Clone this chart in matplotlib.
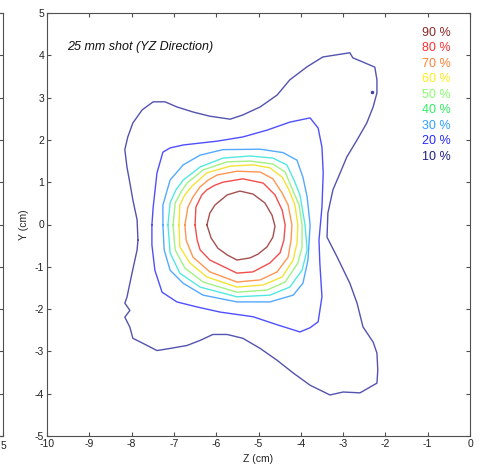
import matplotlib
matplotlib.use("Agg")
import matplotlib.pyplot as plt

plt.rcParams['font.family'] = ['Liberation Sans', 'DejaVu Sans']
plt.rcParams['axes.unicode_minus'] = False

# contour lines, (Z, Y) in cm
z90 = [-6.22, -6.15, -6.03, -5.74, -5.44, -5.13, -4.85, -4.68, -4.61, -4.66, -4.80, -5.01, -5.20, -5.51, -5.74, -5.96, -6.12]
y90 = [-0.01, 0.27, 0.46, 0.70, 0.79, 0.72, 0.51, 0.22, -0.04, -0.30, -0.53, -0.70, -0.79, -0.84, -0.72, -0.56, -0.32]

z80 = [-6.50, -6.48, -6.34, -6.22, -6.03, -5.84, -5.37, -4.89, -4.61, -4.44, -4.37, -4.40, -4.49, -4.73, -5.13, -5.51, -6.15, -6.38, -6.45]
y80 = [-0.01, 0.41, 0.70, 0.82, 0.93, 1.00, 1.08, 0.98, 0.70, 0.34, -0.01, -0.37, -0.67, -0.91, -1.12, -1.15, -0.84, -0.60, -0.37]

z70 = [-6.74, -6.67, -6.55, -6.38, -6.19, -5.98, -5.51, -4.96, -4.66, -4.44, -4.30, -4.21, -4.23, -4.30, -4.56, -4.96, -5.51, -6.15, -6.55, -6.71]
y70 = [-0.01, 0.41, 0.65, 0.89, 1.05, 1.17, 1.26, 1.24, 1.08, 0.74, 0.46, -0.01, -0.37, -0.77, -1.12, -1.31, -1.36, -1.12, -0.77, -0.37]

z60 = [-6.88, -6.86, -6.74, -6.57, -6.22, -5.67, -5.13, -4.73, -4.44, -4.28, -4.14, -4.07, -4.09, -4.18, -4.44, -4.89, -5.51, -6.22, -6.62, -6.86]
y60 = [-0.01, 0.46, 0.70, 0.91, 1.22, 1.38, 1.41, 1.34, 1.12, 0.82, 0.46, -0.01, -0.44, -0.84, -1.24, -1.43, -1.48, -1.24, -0.91, -0.53]

z50 = [-7.02, -6.97, -6.83, -6.69, -6.31, -5.74, -5.20, -4.66, -4.37, -4.21, -4.04, -3.97, -3.97, -4.07, -4.37, -4.80, -5.51, -6.31, -6.74, -6.97]
y50 = [-0.01, 0.51, 0.77, 0.98, 1.29, 1.48, 1.50, 1.43, 1.24, 0.86, 0.46, -0.01, -0.53, -0.91, -1.36, -1.55, -1.60, -1.36, -1.03, -0.60]

z40 = [-7.14, -7.09, -6.95, -6.78, -6.38, -5.84, -5.20, -4.66, -4.33, -4.16, -4.02, -3.90, -3.85, -3.97, -4.26, -4.73, -5.51, -6.38, -6.86, -7.09]
y40 = [-0.01, 0.51, 0.82, 1.05, 1.36, 1.57, 1.62, 1.57, 1.41, 1.05, 0.70, -0.01, -0.60, -1.08, -1.48, -1.67, -1.71, -1.48, -1.15, -0.67]

z30 = [-7.26, -7.26, -7.09, -6.78, -6.38, -5.84, -4.96, -4.42, -4.09, -3.95, -3.85, -3.78, -3.83, -3.95, -4.18, -4.73, -5.51, -6.31, -6.78, -7.09, -7.23]
y30 = [-0.01, 0.46, 1.05, 1.41, 1.64, 1.77, 1.78, 1.70, 1.52, 1.12, 0.65, -0.01, -0.84, -1.39, -1.67, -1.83, -1.83, -1.67, -1.39, -1.08, -0.60]

z20 = [-7.52, -7.49, -7.40, -7.26, -7.09, -6.78, -5.98, -5.37, -4.80, -4.26, -3.78, -3.59, -3.50, -3.47, -3.50, -3.57, -3.55, -3.50,
       -3.59, -3.78, -4.02, -4.56, -5.13, -5.91, -6.45, -6.93, -7.28, -7.45, -7.52]
y20 = [-0.01, 0.41, 1.22, 1.71, 1.81, 1.88, 1.97, 2.07, 2.23, 2.42, 2.52, 2.28, 1.83, 1.22, 0.41, -0.37, -0.91, -1.71,
       -2.30, -2.44, -2.54, -2.37, -2.18, -2.07, -1.95, -1.83, -1.60, -1.08, -0.48]

z10 = [-7.85, -7.87, -7.97, -8.04, -8.11, -8.16, -8.09, -7.97, -7.75, -7.49, -7.21, -6.93, -6.55, -6.15, -5.67, -5.37, -4.96,
       -4.56, -4.26, -3.85, -3.48, -2.84, -2.77, -2.53, -2.25, -2.20, -2.20, -2.29, -2.44, -2.67, -2.91, -3.07, -3.24, -3.36,
       -3.38, -3.14, -2.84, -2.67, -2.53, -2.29, -2.20, -2.18, -2.20, -2.60, -3.00, -3.31, -3.78, -4.18, -4.56, -4.96, -5.37,
       -5.74, -6.08, -6.38, -6.69, -7.09, -7.40, -7.73, -7.97, -8.04, -8.16, -8.04, -8.16, -8.11, -7.99, -7.87]
y10 = [-0.37, 0.11, 0.58, 0.98, 1.36, 1.77, 2.07, 2.40, 2.71, 2.90, 2.90, 2.78, 2.66, 2.56, 2.49, 2.59, 2.78,
       3.06, 3.42, 3.73, 3.96, 4.06, 3.94, 3.84, 3.72, 3.42, 3.11, 2.78, 2.40, 2.00, 1.60, 1.22, 0.82, 0.27,
       -0.30, -0.77, -1.39, -1.86, -2.42, -2.78, -3.04, -3.44, -3.75, -3.98, -3.96, -4.03, -3.80, -3.51, -3.21, -2.93, -2.69,
       -2.60, -2.60, -2.74, -2.86, -2.93, -2.98, -2.81, -2.69, -2.43, -2.19, -2.03, -1.86, -1.72, -1.15, -0.60]
# small isolated 10 % island
z10_dot = [-2.32]
y10_dot = [3.13]

levels = ['90 %', '80 %', '70 %', '60 %', '50 %', '40 %', '30 %', '20 %', '10 %']
contours = [(z90, y90), (z80, y80), (z70, y70), (z60, y60), (z50, y50),
            (z40, y40), (z30, y30), (z20, y20), (z10, y10)]
line_colors = ['#9c3c3c', '#f03a3a', '#ff8a40', '#f2e020', '#98f078',
               '#40e6dc', '#40a0ff', '#3c3cff', '#4040a8']
text_colors = ['#8c2828', '#ff3030', '#ff8030', '#ffee20', '#88ff70',
               '#30ee60', '#30a0ff', '#2828ff', '#202088']

fig = plt.figure(figsize=(4.84, 4.66), dpi=100)
edge = '#505050'

# neighbouring panel, only its right edge is visible
ax0 = fig.add_axes([-0.5, 30/466, 0.5 + 3/484, 423/466])
ax0.set_xlim(-5, 5)
ax0.set_ylim(-5, 5)
ax0.set_xticks([5])
ax0.set_yticks(range(-5, 6))
ax0.tick_params(direction='in', length=3, right=True, labelleft=False, colors=edge, labelsize=7.5, labelcolor='#222222')
for s in ax0.spines.values():
    s.set_color(edge)

ax = fig.add_axes([47/484, 30/466, 423/484, 423/466])
for (zz, yy), c in zip(contours, line_colors):
    ax.plot(zz + zz[:1], yy + yy[:1], color=c, lw=1.0, alpha=0.9)
ax.plot(z10_dot, y10_dot, 'o', color=line_colors[-1], ms=1.5)

ax.set_xlim(-10, 0)
ax.set_ylim(-5, 5)
ax.set_xticks(range(-10, 1))
ax.set_yticks(range(-5, 6))
ax.tick_params(direction='in', length=3, top=True, right=True, colors=edge,
               labelsize=7.5, labelcolor='#222222', pad=2)
for s in ax.spines.values():
    s.set_color(edge)
ax.set_xlabel('Z (cm)', fontsize=7.5, color='#222222', labelpad=4)
ax.set_ylabel('Y (cm)', fontsize=7.5, color='#222222', labelpad=4)

ax.text(-9.52, 4.2, '25 mm shot (YZ Direction)', style='italic', fontsize=9,
        color='#111111', va='center', ha='left')

for i, (lab, c) in enumerate(zip(levels, text_colors)):
    ax.text(0.887, 0.953 - i * 0.0366, lab, color=c, fontsize=9,
            transform=ax.transAxes, va='center', ha='left')

fig.savefig('out.png', dpi=100)
